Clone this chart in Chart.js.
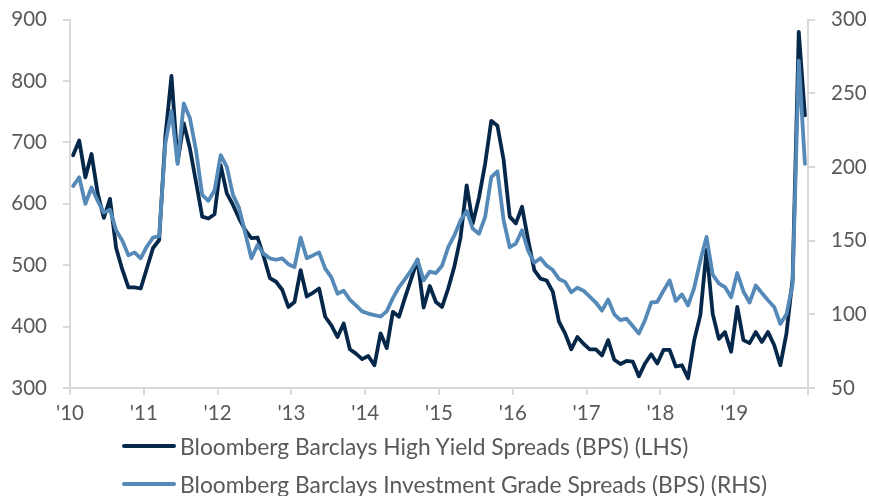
<!DOCTYPE html>
<html><head><meta charset="utf-8">
<script src="https://cdn.jsdelivr.net/npm/chart.js@4/dist/chart.umd.min.js"></script>
<style>
html,body{margin:0;padding:0;background:#fff;}
#wrap{position:relative;width:869px;height:496px;overflow:hidden;}
#c{position:absolute;left:0;top:0;}
.row{position:absolute;left:122px;white-space:nowrap;display:flex;align-items:center;height:30px;font-family:Lato,sans-serif;font-size:22.8px;color:#595959;}
.sw{display:inline-block;width:54px;height:4px;margin-right:4px;border-radius:2px;}
</style></head>
<body><div id="wrap"><canvas id="c" width="869" height="496"></canvas>
<div class="row" style="top:431px"><span class="sw" style="background:#05284A"></span><span id="l0"></span></div>
<div class="row" style="top:469px"><span class="sw" style="background:#5589B8"></span><span id="l1"></span></div>
</div>
<script>
const yearLabels = ["'10","'11","'12","'13","'14","'15","'16","'17","'18","'19"];
const seriesNames = ["Bloomberg Barclays High Yield Spreads (BPS) (LHS)","Bloomberg Barclays Investment Grade Spreads (BPS) (RHS)"];
// monthly values Jan 2010 .. Dec 2019
const highYield = [
 679,703,643,681,617,577,608,528,493,464,464,462,
 495,528,541,709,808,668,731,690,635,579,576,583,
 663,617,598,576,557,544,545,514,479,473,460,432,
 440,492,449,455,462,416,402,383,405,363,356,347,
 352,337,389,365,424,416,448,478,509,431,466,440,
 432,462,498,545,630,568,610,665,735,727,672,579,
 568,595,541,492,478,475,457,408,389,363,383,372,
 363,363,353,378,346,339,344,343,319,340,355,340,
 362,362,335,337,316,378,419,525,421,380,391,359,
 432,378,373,391,375,391,370,337,389,478,880,744
];
const investmentGrade = [
 187,193,175,186,177,169,171,157,150,140,142,138,
 146,152,153,216,238,202,243,233,211,181,177,184,
 208,200,181,172,155,138,147,141,138,137,138,134,
 132,152,138,140,142,131,125,114,116,110,106,102,
 100.5,99.5,98.5,102,111,118.5,124,130,137,123,129,128,
 133,145.5,153.5,163.7,170,158,154.6,166,193,197,164,145.5,
 148,157,143,135,138,133,130,124,122,115,118,116,
 112,108,102.5,110,100,96,97,92,87,96,108,108.5,
 116,123,109,113.5,106,118,136.5,152.5,127,121,118.5,111.5,
 128,115.5,108,119.5,114.5,109.5,105,93.5,100,120.6,272,202
];
document.getElementById('l0').textContent = seriesNames[0];
document.getElementById('l1').textContent = seriesNames[1];
const toPts = arr => arr.map((v,i)=>({x:i+0.5,y:v}));
const tickFont = {family:'Lato', size:20.5};
const axisGray = '#D9D9D9';
const textGray = '#595959';
const noPad = (s)=>{s.paddingTop=0;s.paddingBottom=0;s.paddingLeft=0;s.paddingRight=0;};
new Chart(document.getElementById('c'), {
  type:'line',
  data:{datasets:[
    {label:seriesNames[0], data:toPts(highYield), yAxisID:'yL', borderColor:'#05284A', borderWidth:3.8, pointRadius:0, tension:0, borderJoinStyle:'round', borderCapStyle:'round', order:1},
    {label:seriesNames[1], data:toPts(investmentGrade), yAxisID:'yR', borderColor:'#5589B8', borderWidth:3.8, pointRadius:0, tension:0, borderJoinStyle:'round', borderCapStyle:'round', order:0}
  ]},
  options:{
    responsive:false, animation:false, devicePixelRatio:1,
    layout:{padding:{top:19.5,left:0,right:0,bottom:0}},
    plugins:{legend:{display:false}, tooltip:{enabled:false}},
    scales:{
      x:{type:'linear', min:0, max:120,
        grid:{display:true, drawOnChartArea:false, drawTicks:true, tickLength:7, color:axisGray, lineWidth:2},
        border:{display:true, color:axisGray, width:2},
        ticks:{stepSize:12, autoSkip:false, maxRotation:0, padding:6, color:textGray, font:tickFont,
          callback:(v)=>{const k=Math.round(v/12); return (k<yearLabels.length)? yearLabels[k] : '';}},
        afterFit:(s)=>{s.height=108; noPad(s);}
      },
      yL:{type:'linear', position:'left', min:300, max:900,
        grid:{display:true, drawOnChartArea:false, drawTicks:true, tickLength:7, color:axisGray, lineWidth:2},
        border:{display:true, color:axisGray, width:2},
        ticks:{stepSize:100, padding:16, color:textGray, font:tickFont},
        afterFit:(s)=>{s.width=70; noPad(s);}
      },
      yR:{type:'linear', position:'right', min:50, max:300,
        grid:{display:true, drawOnChartArea:false, drawTicks:true, tickLength:7, color:axisGray, lineWidth:2},
        border:{display:true, color:axisGray, width:2},
        ticks:{stepSize:50, padding:16, color:textGray, font:tickFont},
        afterFit:(s)=>{s.width=61; noPad(s);}
      }
    }
  }
});
</script>
</body></html>
